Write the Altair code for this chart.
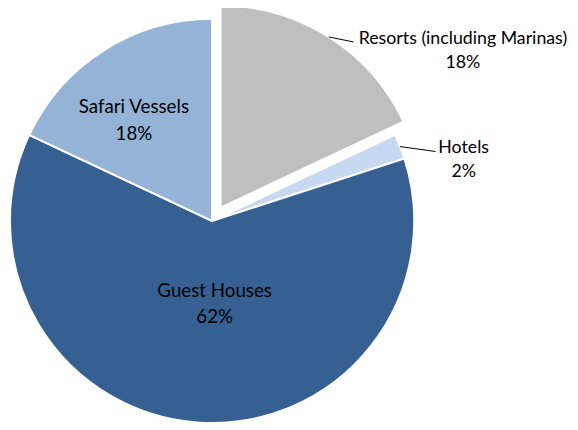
import math
import altair as alt
import pandas as pd

# ---- data ----
categories = ["Resorts (including Marinas)", "Hotels", "Guest Houses", "Safari Vessels"]
values = [18, 2, 62, 18]
order = [1, 2, 3, 4]

# ---- styles ----
colors = ["#BFBFBF", "#C6D9F1", "#366092", "#95B3D7"]
exploded = ["Resorts (including Marinas)"]
outside = ["Resorts (including Marinas)", "Hotels"]
CX, CY, R, EXPLODE = 207, 213, 205, 16
FONT = "Lato"
FS_IN = 19
FS_OUT = 18
CW = 7.85  # approx char width for label centering

df = pd.DataFrame({"category": categories, "value": values, "order": order})
total = sum(values)

exp_list = "[" + ",".join("'" + c + "'" for c in exploded) + "]"
out_list = "[" + ",".join("'" + c + "'" for c in outside) + "]"

base = alt.Chart(df)

arcs = base.mark_arc(radius=R, stroke="white", strokeWidth=2).encode(
    theta=alt.Theta("start:Q", scale=alt.Scale(domain=[0, total], range=[0, 2 * math.pi])),
    theta2="cum:Q",
    x=alt.X("ex:Q", scale=None, axis=None),
    y=alt.Y("ey:Q", scale=None, axis=None),
    color=alt.Color("category:N", scale=alt.Scale(domain=categories, range=colors), legend=None),
)

# inside labels
def inside_label(cat, r, dx, dy):
    return base.transform_filter(alt.datum.category == cat).transform_calculate(
        lx=f"datum.ex + {r}*sin(datum.mid)", ly=f"datum.ey - {r}*cos(datum.mid)"
    ).mark_text(
        font=FONT, fontSize=FS_IN, color="black", align="center", baseline="middle",
        lineBreak="\n", lineHeight=27, dx=dx, dy=dy,
    ).encode(
        x=alt.X("lx:Q", scale=None), y=alt.Y("ly:Q", scale=None), text="lab:N"
    )

guest_lab = inside_label("Guest Houses", 86, 8, -15)
safari_lab = inside_label("Safari Vessels", 120, -15, -14)

outer = base.transform_filter(f"indexof({out_list}, datum.category) >= 0").transform_calculate(
    sx=f"datum.ex + {R}*sin(datum.mid)", sy=f"datum.ey - {R}*cos(datum.mid)"
).transform_calculate(
    tx="datum.sx + (datum.category == 'Hotels' ? 36 : 25)", ty="datum.sy + 5"
)

leaders = outer.mark_rule(color="black", strokeWidth=1).encode(
    x=alt.X("sx:Q", scale=None), y=alt.Y("sy:Q", scale=None),
    x2="tx:Q", y2="ty:Q",
)

outer_text = outer.transform_calculate(
    cx2=f"datum.tx + 5 + length(datum.category)*{CW}/2", cy2="datum.ty - 3"
).mark_text(
    font=FONT, fontSize=FS_OUT, color="black", align="center", baseline="middle",
    lineBreak="\n", lineHeight=24,
).encode(x=alt.X("cx2:Q", scale=None), y=alt.Y("cy2:Q", scale=None), text="lab:N")

chart = alt.layer(arcs, leaders, guest_lab, safari_lab, outer_text).transform_joinaggregate(
    total="sum(value)"
).transform_window(
    cum="sum(value)", sort=[alt.SortField("order")], frame=[None, 0]
).transform_calculate(
    start="datum.cum - datum.value",
    mid="(datum.cum - datum.value/2)/datum.total*2*PI",
    ex=f"{CX} + (indexof({exp_list}, datum.category) >= 0 ? {EXPLODE} : 0)*sin((datum.cum - datum.value/2)/datum.total*2*PI)",
    ey=f"{CY} - (indexof({exp_list}, datum.category) >= 0 ? {EXPLODE} : 0)*cos((datum.cum - datum.value/2)/datum.total*2*PI)",
    lab="datum.category + '\\n' + format(datum.value/datum.total, '.0%')",
).properties(
    width=570, height=422, padding=0, autosize=alt.AutoSizeParams(type="none")
).configure_view(stroke=None)

chart.save("out.html", embed_options={"renderer": "svg", "actions": False})
